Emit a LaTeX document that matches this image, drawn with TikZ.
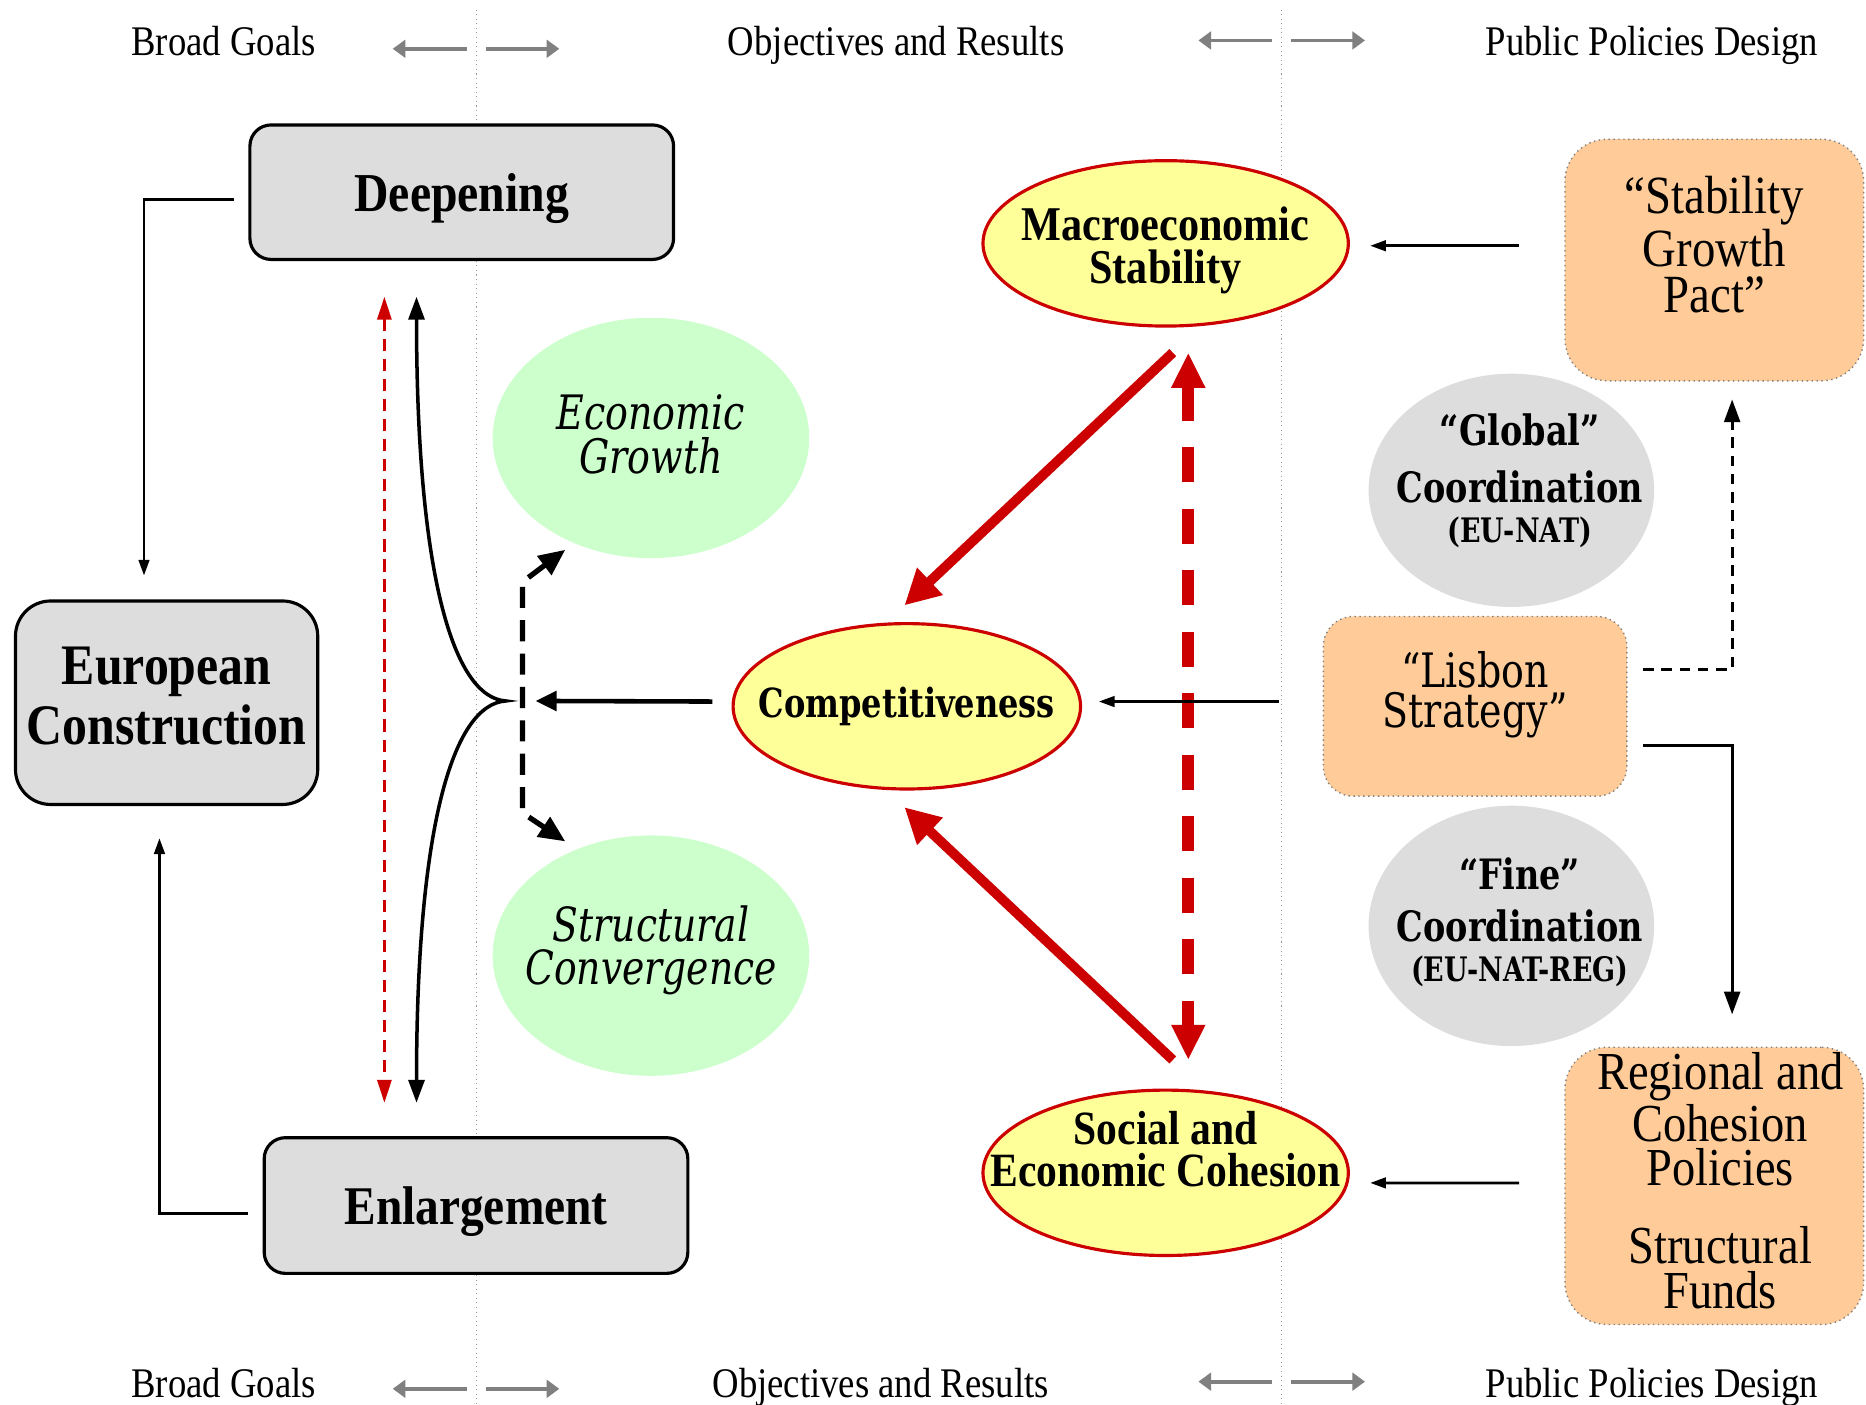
\documentclass[tikz,border=0pt]{standalone}
\usepackage{fontspec}
\setmainfont{Liberation Serif}[FakeStretch=0.87]
\newfontfamily\schfont{DejaVu Serif}[FakeStretch=0.8]
\usepackage{tikz}
\usetikzlibrary{positioning,shapes,arrows.meta,calc}

\definecolor{boxgray}{HTML}{DDDDDD}
\definecolor{mint}{HTML}{CCFFCC}
\definecolor{lemon}{HTML}{FFFF99}
\definecolor{peach}{HTML}{FFCC99}
\definecolor{darkred}{HTML}{CC0000}
\definecolor{guide}{HTML}{808080}

\tikzset{
    header/.style={anchor=base, inner sep=0pt, font=\fontsize{12}{14}\selectfont},
    divider/.style={draw=guide!80, line width=0.3pt, densely dotted},
    guidearrow/.style={draw=guide, line width=1.1pt, -{Triangle[length=3.6pt,width=5pt]}},
    goal/.style={draw, line width=0.9pt, fill=boxgray, rounded corners=6pt, align=center, inner sep=0pt},
    greenoval/.style={ellipse, fill=mint, inner sep=0pt, minimum width=3.166cm, minimum height=2.404cm},
    yellowoval/.style={ellipse, draw=darkred, line width=0.9pt, fill=lemon, inner sep=0pt, minimum width=3.654cm, minimum height=1.654cm},
    grayoval/.style={ellipse, fill=boxgray, inner sep=0pt, minimum width=2.856cm, minimum height=2.37cm},
    policy/.style={fill=peach, draw=guide, densely dotted, line width=0.4pt, rounded corners=12pt, align=center, inner sep=0pt},
    ovaltext/.style={align=center, inner sep=0pt},
    link/.style={line width=0.8pt, -{Triangle[length=4.5pt,width=3pt]}},
    mainlink/.style={line width=1.3pt, -{Triangle[length=6pt,width=5.5pt]}},
    bracecurve/.style={line width=1pt, {Triangle[length=6.5pt,width=4.5pt]}-{Triangle[length=6.5pt,width=4.5pt]}},
    redthin/.style={draw=darkred, line width=0.8pt, dash pattern=on 3.5pt off 2.2pt, {Triangle[length=6.5pt,width=4pt]}-{Triangle[length=6.5pt,width=4pt]}},
    forkdash/.style={line width=1.5pt, dash pattern=on 6pt off 3.5pt, {Triangle[length=7.5pt,width=6.5pt]}-{Triangle[length=7.5pt,width=6.5pt]}},
    redarrow/.style={draw=darkred, line width=2.8pt, -{Triangle[length=10pt,width=10pt]}},
    reddash/.style={draw=darkred, line width=3.4pt, dash pattern=on 10pt off 7.5pt, {Triangle[length=10pt,width=9pt]}-{Triangle[length=10pt,width=9pt]}},
    policylink/.style={line width=0.9pt, -{Triangle[length=6.5pt,width=4.5pt]}}
}

\begin{document}
\begin{tikzpicture}[x=0.011901cm, y=-0.011901cm]
\useasboundingbox (0,0) rectangle (1568,1180);

% column dividers and headers
\draw[divider] (400,8) -- (400,1180);
\draw[divider] (1077,8) -- (1077,1180);

\coordinate (lt) at (400,41);
\coordinate (rt) at (1077,34);
\coordinate (lb) at (400,1167);
\coordinate (rb) at (1077,1161);
\foreach \c in {lt,rt,lb,rb} {
    \draw[guidearrow] ($(\c)+(-8,0)$) -- ++(-62,0);
    \draw[guidearrow] ($(\c)+(8,0)$) -- ++(62,0);
}

\node[header] (goals) at (188,47) {Broad Goals};
\node[header] (objectives) at (753,47) {Objectives and Results};
\node[header] (policies) at (1388,47) {Public Policies Design};
\node[header] (goals2) at (188,1174) {Broad Goals};
\node[header] (objectives2) at (740,1174) {Objectives and Results};
\node[header] (policies2) at (1388,1174) {Public Policies Design};

% broad goals
\node[goal, text depth=0pt, minimum width=4.237cm, minimum height=1.345cm, font=\fontsize{15.6}{16}\selectfont\bfseries] (deepening) at (388,161.5) {Deepening};
\node[goal, text depth=4pt, rounded corners=10pt, minimum width=3.023cm, minimum height=2.035cm, font=\fontsize{16.3}{16.9}\selectfont\bfseries] (europe) at (140,590.5) {European\\Construction};
\node[goal, text depth=0pt, minimum width=4.237cm, minimum height=1.357cm, font=\fontsize{15.5}{16}\selectfont\bfseries] (enlargement) at (400,1013) {Enlargement};

% objectives and results
\node[greenoval, label={[ovaltext, yshift=1pt, font=\schfont\itshape\fontsize{13.5}{12.5}\selectfont]center:Economic\\Growth}] (growth) at (547,368) {};
\node[greenoval, label={[ovaltext, yshift=1.5pt, font=\schfont\itshape\fontsize{13.4}{12.5}\selectfont]center:Structural\\Convergence}] (structural) at (547,803) {};
\node[yellowoval, label={[ovaltext, yshift=-2pt, font=\fontsize{13.8}{12}\selectfont\bfseries]center:Macroeconomic\\Stability}] (macro) at (979.5,204.5) {};
\node[yellowoval, minimum width=3.475cm, label={[ovaltext, font=\schfont\bfseries\fontsize{11.4}{12}\selectfont]center:Competitiveness}] (comp) at (762,593.5) {};
\node[yellowoval, label={[ovaltext, yshift=6.7pt, font=\fontsize{13.6}{11.8}\selectfont\bfseries]center:Social and\\Economic Cohesion}] (social) at (979.5,985.5) {};

% public policies design
\node[policy, minimum width=2.987cm, minimum height=2.416cm, label={[ovaltext, yshift=4.4pt, font=\fontsize{15.3}{13}\selectfont]center:“Stability\\Growth\\Pact”}] (pact) at (1440.5,218.5) {};
\node[grayoval, minimum height=2.333cm, label={[ovaltext, xshift=2.4pt, yshift=2.7pt, font=\schfont\bfseries\fontsize{11.9}{11.4}\selectfont]center:“Global”\\[5pt]Coordination\\{\fontsize{9.6}{11}\selectfont(EU-NAT)}}] (global) at (1270,412) {};
\node[policy, rounded corners=8.5pt, minimum width=3.035cm, minimum height=1.797cm, label={[ovaltext, yshift=3.3pt, font=\schfont\fontsize{13.5}{11.5}\selectfont]center:“Lisbon\\Strategy”}] (lisbon) at (1239.5,593.5) {};
\node[grayoval, minimum height=2.404cm, label={[ovaltext, xshift=2.4pt, yshift=1pt, font=\schfont\bfseries\fontsize{11.9}{11.4}\selectfont]center:“Fine”\\[3.4pt]Coordination\\{\fontsize{9.6}{11}\selectfont(EU-NAT-REG)}}] (fine) at (1270,778) {};
\node[policy, minimum width=2.987cm, minimum height=2.773cm, label={[ovaltext, xshift=1.7pt, yshift=1.5pt, font=\fontsize{15.2}{12.7}\selectfont]center:Regional and\\Cohesion\\Policies\\[9.5pt]Structural\\Funds}] (regional) at (1440.5,996.5) {};

% connectors
\draw[link] ($(deepening.west)+(-12,6)$) -| ($(europe.north)+(-19,-20)$);
\draw[link] ($(enlargement.west)+(-12,7)$) -| ($(europe.south)+(-6,27)$);
\draw[redthin] ($(deepening.south)+(-65,30)$) -- ($(enlargement.north)+(-77,-28)$);

\coordinate (fork) at (425,589);
\draw[bracecurve] ($(deepening.south)+(-38,30)$) .. controls +(0,230) and +(-45,-3) .. (fork)
    .. controls +(-45,3) and +(0,-230) .. ($(enlargement.north)+(-50,-28)$);
\draw[mainlink] ($(comp.west)+(-16,-4)$) -- ($(fork)+(25,0)$);
\draw[forkdash] ($(growth)+(-72,94)$) -- ++(-36,27) -- ($(structural)+(-108,-120)$) -- ($(structural)+(-72,-96)$);

\draw[redarrow] ($(macro.south)+(6,21)$) -- ($(comp.north)+(-2,-14)$);
\draw[redarrow] ($(social.north)+(6,-24)$) -- ($(comp.south)+(-2,14)$);
\draw[reddash] ($(macro.south)+(19,21)$) -- ($(social.north)+(19,-24)$);

\draw[link] ($(lisbon.west)+(-37,-4)$) -- ($(comp.east)+(14,-4)$);
\draw[link] ($(pact.west)+(-38,-12)$) -- ($(macro.east)+(17,2)$);
\draw[link] ($(regional.west)+(-38,-2.5)$) -- ($(social.east)+(17,8.5)$);
\draw[policylink, dash pattern=on 3pt off 2.2pt] ($(lisbon.east)+(13,-31)$) -| ($(pact.south)+(15,15)$);
\draw[policylink] ($(lisbon.east)+(13,33)$) -| ($(regional.north)+(15,-27)$);
\end{tikzpicture}
\end{document}
